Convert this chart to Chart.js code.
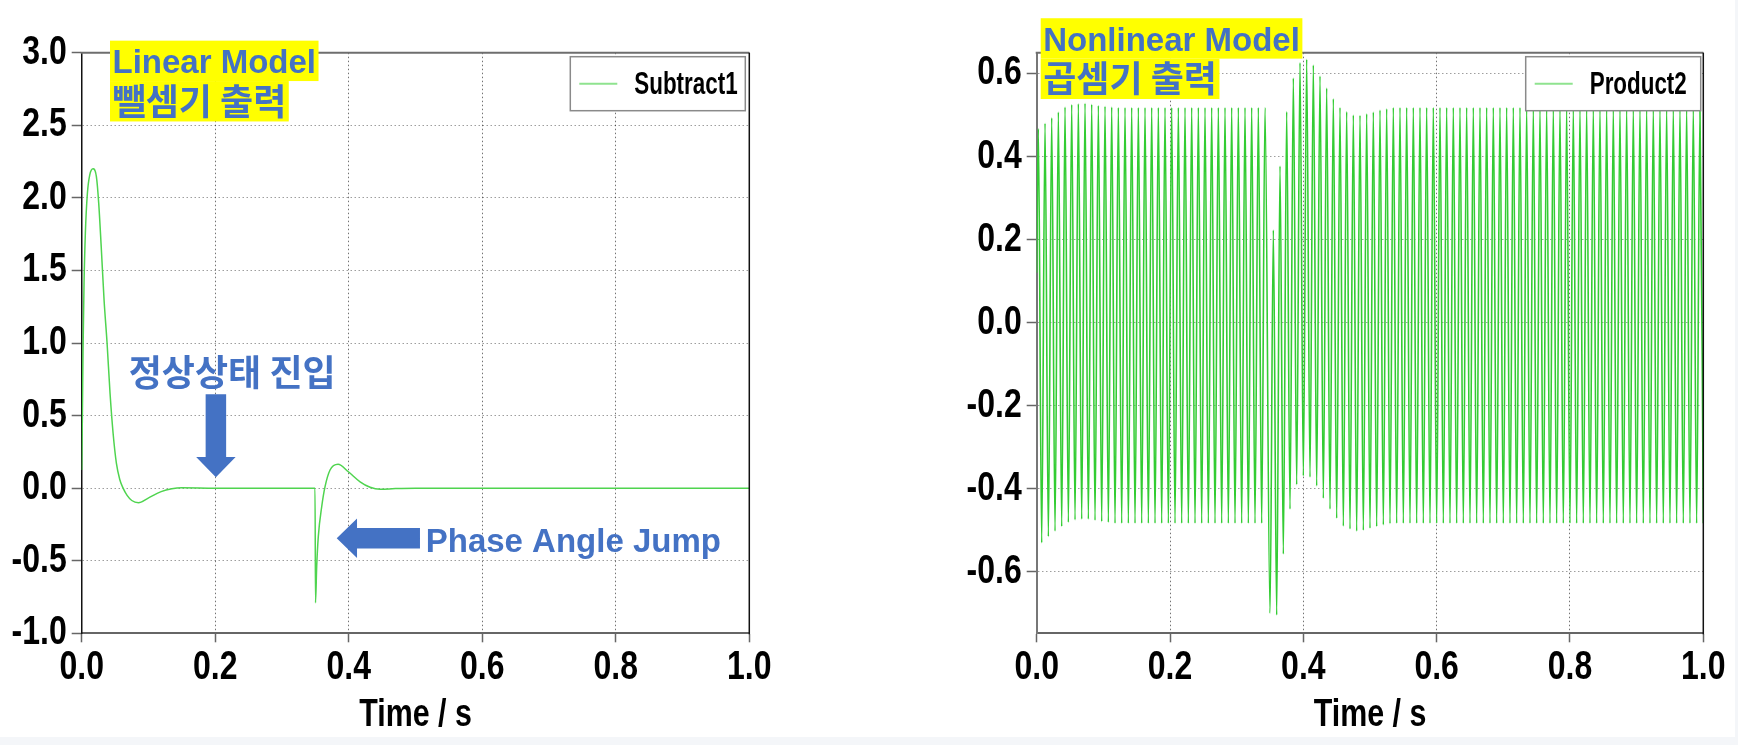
<!DOCTYPE html>
<html>
<head>
<meta charset="utf-8">
<script src="https://cdn.jsdelivr.net/npm/chart.js@4.4.1/dist/chart.umd.min.js"></script>
<style>
  html, body { margin: 0; padding: 0; background: #f4f6f9; }
  #sheet { position: absolute; left: 0; top: 0; width: 1735px; height: 737px; background: #fff; }
  canvas { position: absolute; top: 0; }
  #leftChart { left: 0; }
  #rightChart { left: 870px; }
</style>
</head>
<body>
<div id="sheet"></div>
<canvas id="leftChart" width="870" height="745"></canvas>
<canvas id="rightChart" width="868" height="745"></canvas>
<script>
// ---- Subtract1 (linear model) ----
const subT = [0, 0.001, 0.002, 0.0035, 0.0055, 0.0085, 0.012, 0.017, 0.022, 0.0255,
  0.0295, 0.0335, 0.038, 0.0425, 0.047, 0.052, 0.057, 0.062, 0.068, 0.075,
  0.085, 0.099, 0.119, 0.135, 0.15, 0.2, 0.3, 0.3495, 0.3502, 0.352,
  0.3544, 0.3595, 0.3645, 0.372, 0.384, 0.3994, 0.417, 0.432, 0.447, 0.47,
  0.5, 1.0];
const subV = [0.125, 0.49, 0.95, 1.41, 1.76, 2.03, 2.157, 2.2, 2.146, 1.962,
  1.641, 1.296, 1.0, 0.65, 0.38, 0.17, 0.06, 0.0, -0.05, -0.085,
  -0.1, -0.07, -0.024, -0.004, 0.003, 0.0, 0.0, 0.0, -0.79, -0.54,
  -0.334, -0.128, 0.01, 0.125, 0.164, 0.113, 0.044, 0.006, -0.008, -0.003,
  0.0, 0.0];

// ---- Product2 (nonlinear model): extrema of the 100 Hz ripple ----
const prodStart = [0, 0.12];
const preJumpPeakT = [0.0025, 0.0125, 0.0225, 0.0325, 0.0425, 0.0525, 0.0625, 0.0725, 0.0825, 0.0925,
  0.1025, 0.1125, 0.1225, 0.1325, 0.1425, 0.1525, 0.1625, 0.1725, 0.1825, 0.1925,
  0.2025, 0.2125, 0.2225, 0.2325, 0.2425, 0.2525, 0.2625, 0.2725, 0.2825, 0.2925,
  0.3025, 0.3125, 0.3225, 0.3325, 0.3425];
const preJumpPeaks = [0.467, 0.480, 0.493, 0.507, 0.519, 0.525, 0.527, 0.528, 0.526, 0.523,
  0.521, 0.519, 0.518, 0.518, 0.518, 0.518, 0.518, 0.518, 0.518, 0.518,
  0.518, 0.518, 0.518, 0.518, 0.518, 0.518, 0.518, 0.518, 0.518, 0.518,
  0.518, 0.518, 0.518, 0.518, 0.518];
const preJumpTroughT = [0.0075, 0.0175, 0.0275, 0.0375, 0.0475, 0.0575, 0.0675, 0.0775, 0.0875, 0.0975,
  0.1075, 0.1175, 0.1275, 0.1375, 0.1475, 0.1575, 0.1675, 0.1775, 0.1875, 0.1975,
  0.2075, 0.2175, 0.2275, 0.2375, 0.2475, 0.2575, 0.2675, 0.2775, 0.2875, 0.2975,
  0.3075, 0.3175, 0.3275, 0.3375];
const preJumpTroughs = [-0.530, -0.515, -0.502, -0.491, -0.481, -0.475, -0.473, -0.473, -0.476, -0.479,
  -0.481, -0.483, -0.483, -0.483, -0.483, -0.483, -0.483, -0.483, -0.483, -0.483,
  -0.483, -0.483, -0.483, -0.483, -0.483, -0.483, -0.483, -0.483, -0.483, -0.483,
  -0.483, -0.483, -0.483, -0.483];
const postJumpTroughT = [0.35, 0.36, 0.37, 0.38, 0.39, 0.40, 0.41, 0.42, 0.43, 0.44,
  0.45, 0.46, 0.47, 0.48, 0.49, 0.50, 0.51, 0.52, 0.53, 0.54,
  0.55, 0.56, 0.57, 0.58, 0.59, 0.60, 0.61, 0.62, 0.63, 0.64,
  0.65, 0.66, 0.67, 0.68, 0.69, 0.70, 0.71, 0.72, 0.73, 0.74,
  0.75, 0.76, 0.77, 0.78, 0.79, 0.80, 0.81, 0.82, 0.83, 0.84,
  0.85, 0.86, 0.87, 0.88, 0.89, 0.90, 0.91, 0.92, 0.93, 0.94,
  0.95, 0.96, 0.97, 0.98, 0.99, 1.00];
const postJumpTroughs = [-0.700, -0.704, -0.557, -0.449, -0.390, -0.369, -0.372, -0.393, -0.423, -0.449,
  -0.471, -0.490, -0.497, -0.502, -0.500, -0.495, -0.491, -0.487, -0.484, -0.483,
  -0.483, -0.483, -0.483, -0.483, -0.483, -0.483, -0.483, -0.483, -0.483, -0.483,
  -0.483, -0.483, -0.483, -0.483, -0.483, -0.483, -0.483, -0.483, -0.483, -0.483,
  -0.483, -0.483, -0.483, -0.483, -0.483, -0.483, -0.483, -0.483, -0.483, -0.483,
  -0.483, -0.483, -0.483, -0.483, -0.483, -0.483, -0.483, -0.483, -0.483, -0.483,
  -0.483, -0.483, -0.483, -0.483, -0.483, -0.483];
const postJumpPeakT = [0.355, 0.365, 0.375, 0.385, 0.395, 0.405, 0.415, 0.425, 0.435, 0.445,
  0.455, 0.465, 0.475, 0.485, 0.495, 0.505, 0.515, 0.525, 0.535, 0.545,
  0.555, 0.565, 0.575, 0.585, 0.595, 0.605, 0.615, 0.625, 0.635, 0.645,
  0.655, 0.665, 0.675, 0.685, 0.695, 0.705, 0.715, 0.725, 0.735, 0.745,
  0.755, 0.765, 0.775, 0.785, 0.795, 0.805, 0.815, 0.825, 0.835, 0.845,
  0.855, 0.865, 0.875, 0.885, 0.895, 0.905, 0.915, 0.925, 0.935, 0.945,
  0.955, 0.965, 0.975, 0.985, 0.995];
const postJumpPeaks = [0.223, 0.377, 0.508, 0.589, 0.626, 0.634, 0.620, 0.594, 0.565, 0.539,
  0.518, 0.508, 0.500, 0.499, 0.503, 0.507, 0.512, 0.515, 0.518, 0.518,
  0.518, 0.518, 0.518, 0.518, 0.518, 0.518, 0.518, 0.518, 0.518, 0.518,
  0.518, 0.518, 0.518, 0.518, 0.518, 0.518, 0.518, 0.518, 0.518, 0.518,
  0.518, 0.518, 0.518, 0.518, 0.518, 0.518, 0.518, 0.518, 0.518, 0.518,
  0.518, 0.518, 0.518, 0.518, 0.518, 0.518, 0.518, 0.518, 0.518, 0.518,
  0.518, 0.518, 0.518, 0.518, 0.518];

// ---- text ----
const leftLabel = ["Linear Model", "뺄셈기 출력"];
const rightLabel = ["Nonlinear Model", "곱셈기 출력"];
const steadyText = "정상상태 진입";
const jumpText = "Phase Angle Jump";
const axisTitle = "Time / s";

const AXIS_FAMILY = "'Liberation Sans', Arial, sans-serif";
const SQX = 0.8; // axis text is drawn narrow, like the original plot font
const LATIN_NOTE = "bold 33px 'Liberation Sans', Arial, sans-serif";
const HANGUL_NOTE = "bold 36px 'Noto Sans CJK KR', sans-serif";
const BLUE = "#4472c4";

function pairs(ts, vs) {
  return ts.map((t, i) => ({ x: t, y: vs[i] }));
}

const subData = pairs(subT, subV);
const prodData = [{ x: prodStart[0], y: prodStart[1] }]
  .concat(pairs(preJumpPeakT, preJumpPeaks), pairs(preJumpTroughT, preJumpTroughs),
          pairs(postJumpTroughT, postJumpTroughs), pairs(postJumpPeakT, postJumpPeaks))
  .sort((a, b) => a.x - b.x);

const fmt = (v) => (Math.abs(v) < 1e-9 ? 0 : v).toFixed(1);
const hasHangul = (s) => /[\uac00-\ud7a3]/.test(s);

function narrowText(ctx, text, x, y, sx) {
  ctx.save();
  ctx.translate(x, y);
  ctx.scale(sx, 1);
  CanvasRenderingContext2D.prototype.fillText.call(ctx, text, 0, 0);
  ctx.restore();
}

// squeeze the scale labels and titles horizontally while the axes are drawn
const squeeze = {
  id: "squeeze",
  beforeDraw(chart) {
    chart.ctx.fillText = function (t, x, y) { narrowText(this, t, x, y, SQX); };
  },
  beforeDatasetsDraw(chart) {
    delete chart.ctx.fillText;
  },
};

function arrow(ctx, x0, y0, x1, y1, shaft, head, headLen) {
  const len = Math.hypot(x1 - x0, y1 - y0);
  const dx = (x1 - x0) / len, dy = (y1 - y0) / len;
  const nx = -dy, ny = dx;
  const bx = x1 - dx * headLen, by = y1 - dy * headLen;
  ctx.beginPath();
  ctx.moveTo(x0 + nx * shaft / 2, y0 + ny * shaft / 2);
  ctx.lineTo(bx + nx * shaft / 2, by + ny * shaft / 2);
  ctx.lineTo(bx + nx * head / 2, by + ny * head / 2);
  ctx.lineTo(x1, y1);
  ctx.lineTo(bx - nx * head / 2, by - ny * head / 2);
  ctx.lineTo(bx - nx * shaft / 2, by - ny * shaft / 2);
  ctx.lineTo(x0 - nx * shaft / 2, y0 - ny * shaft / 2);
  ctx.closePath();
  ctx.fill();
}

const decor = {
  id: "decor",
  afterDraw(chart, args, o) {
    const { ctx, chartArea: a, scales: { x, y } } = chart;
    ctx.save();

    // top and right frame
    ctx.lineWidth = 2;
    ctx.strokeStyle = "#6e6e6e";
    ctx.beginPath(); ctx.moveTo(a.left - 1, a.top); ctx.lineTo(a.right, a.top); ctx.stroke();
    ctx.lineWidth = 1.5;
    ctx.strokeStyle = "#111";
    ctx.beginPath(); ctx.moveTo(a.right, a.top); ctx.lineTo(a.right, a.bottom + 1); ctx.stroke();

    // legend box
    const ds = chart.data.datasets[0];
    const lw = 175, lh = 54;
    const lx = a.right - o.legendInset - lw, ly = a.top + 4;
    ctx.fillStyle = "#fff";
    ctx.fillRect(lx, ly, lw, lh);
    ctx.strokeStyle = "#8a8a8a";
    ctx.lineWidth = 1.5;
    ctx.strokeRect(lx, ly, lw, lh);
    ctx.strokeStyle = "#8fe38f";
    ctx.lineWidth = 2;
    ctx.beginPath(); ctx.moveTo(lx + 9, ly + lh / 2); ctx.lineTo(lx + 47, ly + lh / 2); ctx.stroke();
    ctx.fillStyle = "#000";
    ctx.font = "bold 32px " + AXIS_FAMILY;
    ctx.textAlign = "left";
    ctx.textBaseline = "middle";
    narrowText(ctx, ds.label, lx + 64, ly + lh / 2 + 1, 0.7);

    // yellow highlighted model label
    ctx.textBaseline = "alphabetic";
    const bx = x.getPixelForValue(o.label.at[0]);
    const by = y.getPixelForValue(o.label.at[1]);
    o.label.lines.forEach((t, i) => {
      ctx.font = hasHangul(t) ? HANGUL_NOTE : LATIN_NOTE;
      const top = by + i * 40.4;
      const w = ctx.measureText(t).width;
      ctx.fillStyle = "#ffff00";
      ctx.fillRect(bx, top, w + 5, 40.4);
      ctx.fillStyle = BLUE;
      ctx.fillText(t, bx + 2.5, top + (hasHangul(t) ? 33.5 : 32.3));
    });

    // free notes and arrows
    ctx.fillStyle = BLUE;
    (o.texts || []).forEach((n) => {
      ctx.font = hasHangul(n.text) ? HANGUL_NOTE : LATIN_NOTE;
      ctx.textAlign = n.align;
      ctx.fillText(n.text, x.getPixelForValue(n.at[0]), y.getPixelForValue(n.at[1]));
    });
    (o.arrows || []).forEach((r) => {
      arrow(ctx,
        x.getPixelForValue(r.from[0]), y.getPixelForValue(r.from[1]),
        x.getPixelForValue(r.to[0]), y.getPixelForValue(r.to[1]),
        20.5, 39.5, 20.3);
    });
    ctx.restore();
  },
};

function makeChart(id, cfg) {
  const tickFont = { family: AXIS_FAMILY, size: 40, weight: "bold", lineHeight: 1.2 };
  return new Chart(document.getElementById(id), {
    type: "line",
    data: {
      datasets: [{
        label: cfg.label,
        data: cfg.data,
        borderColor: cfg.color,
        borderWidth: cfg.width,
        pointRadius: 0,
        fill: false,
        cubicInterpolationMode: "monotone",
      }],
    },
    options: {
      responsive: false,
      animation: false,
      events: [],
      layout: { padding: { left: 0, right: cfg.padRight, top: 52.7, bottom: 0 } },
      scales: {
        x: {
          type: "linear",
          min: 0,
          max: 1,
          ticks: { stepSize: 0.2, padding: 2, color: "#000", font: tickFont, callback: fmt, maxRotation: 0, autoSkip: false },
          grid: { color: "rgba(0,0,0,0.55)", lineWidth: 1, tickLength: 9, tickColor: "#666", tickWidth: 1.5 },
          border: { color: "#666", width: 2, dash: [1.5, 2.5] },
          title: {
            display: true,
            text: axisTitle,
            color: "#000",
            font: { family: AXIS_FAMILY, size: 38, weight: "bold", lineHeight: 1.2 },
            padding: { top: 0, bottom: 7 },
          },
          afterFit: (s) => { s.height = 111.7; },
        },
        y: {
          min: cfg.yMin,
          max: cfg.yMax,
          ticks: { stepSize: cfg.yStep, padding: 5, color: "#000", font: tickFont, callback: fmt, includeBounds: false },
          grid: { color: "rgba(0,0,0,0.38)", lineWidth: 1, tickLength: 10, tickColor: "#666", tickWidth: 1.5 },
          border: { color: cfg.yAxisColor, width: cfg.yAxisWidth, dash: [1.5, 2.5] },
          afterFit: (s) => { s.width = cfg.yWidth; },
        },
      },
      plugins: {
        legend: { display: false },
        tooltip: { enabled: false },
        decor: cfg.decor,
      },
    },
    plugins: [squeeze, decor],
  });
}

makeChart("leftChart", {
  label: "Subtract1",
  data: subData,
  color: "#4fd44f",
  width: 1.5,
  padRight: 120.7,
  yWidth: 81.7,
  yMin: -1,
  yMax: 3,
  yStep: 0.5,
  yAxisColor: "#111",
  yAxisWidth: 1.5,
  decor: {
    legendInset: 4,
    label: { lines: leftLabel, at: [0.0424, 3.083] },
    texts: [
      { text: steadyText, at: [0.2254, 0.704], align: "center" },
      { text: jumpText, at: [0.5153, -0.438], align: "left" },
    ],
    arrows: [
      { from: [0.201, 0.647], to: [0.201, 0.075] },
      { from: [0.5067, -0.3455], to: [0.382, -0.3455] },
    ],
  },
});

makeChart("rightChart", {
  label: "Product2",
  data: prodData,
  color: "#33cc33",
  width: 1.6,
  padRight: 34.7,
  yWidth: 166.7,
  yMin: -0.748,
  yMax: 0.65,
  yStep: 0.2,
  yAxisColor: "#777",
  yAxisWidth: 2,
  decor: {
    legendInset: 2.6,
    label: { lines: rightLabel, at: [0.006, 0.733] },
  },
});
</script>
</body>
</html>
